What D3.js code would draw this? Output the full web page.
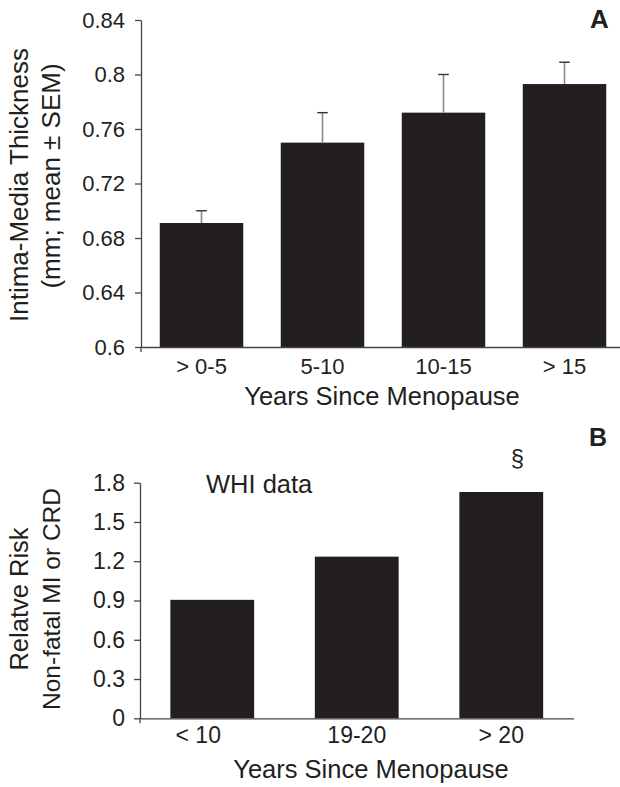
<!DOCTYPE html>
<html>
<head>
<meta charset="utf-8">
<script src="https://cdn.jsdelivr.net/npm/d3@7"></script>
<style>
  body { margin: 0; background: #fff; }
  svg { display: block; font-family: "Liberation Sans", Arial, sans-serif; }
</style>
</head>
<body>
<svg id="canvas"></svg>
<script>
/* Panel A data: IMT by years since menopause */
const catsA = ["> 0-5", "5-10", "10-15", "> 15"];
const imtMean = [0.691, 0.750, 0.772, 0.793];
const imtSem = [0.009, 0.022, 0.028, 0.016];
const ticksA = [0.6, 0.64, 0.68, 0.72, 0.76, 0.8, 0.84];

/* Panel B data: WHI relative risk */
const catsB = ["< 10", "19-20", "> 20"];
const rrB = [0.905, 1.235, 1.729];
const ticksB = [0, 0.3, 0.6, 0.9, 1.2, 1.5, 1.8];

const width = 620, height = 787;
const ink = "#231f20", axisCol = "#444";

const svg = d3.select("#canvas")
    .attr("width", width)
    .attr("height", height);

function styleAxis(g, fontSize) {
    g.select(".domain").attr("stroke", axisCol).attr("stroke-width", 1.3);
    g.selectAll(".tick line").attr("stroke", axisCol).attr("stroke-width", 1.3);
    g.selectAll(".tick text")
        .attr("fill", ink)
        .style("font-size", fontSize + "px")
        .style("font-family", "Liberation Sans, Arial, sans-serif");
}

/* ---------- Panel A ---------- */
const xA = d3.scaleBand()
    .domain(catsA)
    .range([141, 625])
    .paddingInner(0.31)
    .paddingOuter(0.155);

const yA = d3.scaleLinear()
    .domain([0.6, 0.84])
    .range([347, 20]);

const gA = svg.append("g");

gA.append("g")
    .selectAll("rect")
    .data(catsA)
    .enter()
    .append("rect")
    .attr("x", d => xA(d))
    .attr("y", (d, i) => yA(imtMean[i]))
    .attr("width", xA.bandwidth())
    .attr("height", (d, i) => yA(0.6) - yA(imtMean[i]))
    .attr("fill", ink);

/* error bars, upper side only */
const errs = gA.append("g")
    .selectAll("g")
    .data(catsA)
    .enter()
    .append("g");

errs.append("line")
    .attr("x1", d => xA(d) + xA.bandwidth() / 2)
    .attr("x2", d => xA(d) + xA.bandwidth() / 2)
    .attr("y1", (d, i) => yA(imtMean[i]))
    .attr("y2", (d, i) => yA(imtMean[i] + imtSem[i]))
    .attr("stroke", "#888")
    .attr("stroke-width", 1.6);

errs.append("line")
    .attr("x1", d => xA(d) + xA.bandwidth() / 2 - 5.3)
    .attr("x2", d => xA(d) + xA.bandwidth() / 2 + 5.3)
    .attr("y1", (d, i) => yA(imtMean[i] + imtSem[i]))
    .attr("y2", (d, i) => yA(imtMean[i] + imtSem[i]))
    .attr("stroke", "#333")
    .attr("stroke-width", 1.4);

gA.append("g")
    .attr("transform", `translate(0,${yA(0.6)})`)
    .call(d3.axisBottom(xA).tickSize(0).tickPadding(11.5))
    .call(g => styleAxis(g, 22));

gA.append("g")
    .attr("transform", `translate(${xA.range()[0]},0)`)
    .call(d3.axisLeft(yA).tickValues(ticksA).tickFormat(d => String(d))
        .tickSize(6).tickSizeOuter(0).tickPadding(10))
    .call(g => styleAxis(g, 22));

/* small stub of the y axis below the x axis */
gA.append("line")
    .attr("x1", xA.range()[0]).attr("x2", xA.range()[0])
    .attr("y1", yA(0.6)).attr("y2", yA(0.6) + 5)
    .attr("stroke", axisCol).attr("stroke-width", 1.3);

gA.append("text")
    .attr("x", 382).attr("y", 405)
    .attr("text-anchor", "middle")
    .attr("fill", ink)
    .style("font-size", "25.5px")
    .text("Years Since Menopause");

gA.append("text")
    .attr("transform", "rotate(-90)")
    .attr("x", -185).attr("y", 28.3)
    .attr("text-anchor", "middle")
    .attr("fill", ink)
    .style("font-size", "26px")
    .text("Intima-Media Thickness");

gA.append("text")
    .attr("transform", "rotate(-90)")
    .attr("x", -176).attr("y", 60)
    .attr("text-anchor", "middle")
    .attr("fill", ink)
    .style("font-size", "26px")
    .text("(mm; mean \u00b1 SEM)");

gA.append("text")
    .attr("x", 590).attr("y", 28.3)
    .attr("fill", ink)
    .style("font-size", "26px")
    .style("font-weight", "bold")
    .text("A");

/* ---------- Panel B ---------- */
const xB = d3.scaleBand()
    .domain(catsB)
    .range([140, 573.5])
    .paddingInner(0.42)
    .paddingOuter(0.21);

const yB = d3.scaleLinear()
    .domain([0, 1.8])
    .range([718.3, 482.7]);

const gB = svg.append("g");

gB.append("g")
    .selectAll("rect")
    .data(catsB)
    .enter()
    .append("rect")
    .attr("x", d => xB(d))
    .attr("y", (d, i) => yB(rrB[i]))
    .attr("width", xB.bandwidth())
    .attr("height", (d, i) => yB(0) - yB(rrB[i]))
    .attr("fill", ink);

gB.append("g")
    .attr("transform", `translate(0,${yB(0)})`)
    .call(d3.axisBottom(xB).tickSize(0).tickPadding(8.7))
    .call(g => styleAxis(g, 23))
    .call(g => g.selectAll(".tick text").filter(d => d === "< 10").attr("dx", -14));

gB.append("g")
    .attr("transform", `translate(${xB.range()[0]},0)`)
    .call(d3.axisLeft(yB).tickValues(ticksB).tickFormat(d => String(d))
        .tickSize(6).tickSizeOuter(0).tickPadding(9))
    .call(g => styleAxis(g, 23));

gB.append("line")
    .attr("x1", xB.range()[0]).attr("x2", xB.range()[0])
    .attr("y1", yB(0)).attr("y2", yB(0) + 5)
    .attr("stroke", axisCol).attr("stroke-width", 1.3);

gB.append("text")
    .attr("x", 371).attr("y", 778)
    .attr("text-anchor", "middle")
    .attr("fill", ink)
    .style("font-size", "25.5px")
    .text("Years Since Menopause");

gB.append("text")
    .attr("transform", "rotate(-90)")
    .attr("x", -599).attr("y", 28.3)
    .attr("text-anchor", "middle")
    .attr("fill", ink)
    .style("font-size", "25.5px")
    .text("Relatve Risk");

gB.append("text")
    .attr("transform", "rotate(-90)")
    .attr("x", -599).attr("y", 60)
    .attr("text-anchor", "middle")
    .attr("fill", ink)
    .style("font-size", "24.5px")
    .text("Non-fatal MI or CRD");

gB.append("text")
    .attr("x", 206).attr("y", 492.7)
    .attr("fill", ink)
    .style("font-size", "25.5px")
    .text("WHI data");

gB.append("text")
    .attr("x", 517.5).attr("y", 466)
    .attr("text-anchor", "middle")
    .attr("fill", ink)
    .style("font-size", "24px")
    .text("\u00a7");

gB.append("text")
    .attr("x", 589).attr("y", 445.7)
    .attr("fill", ink)
    .style("font-size", "25px")
    .style("font-weight", "bold")
    .text("B");
</script>
</body>
</html>
